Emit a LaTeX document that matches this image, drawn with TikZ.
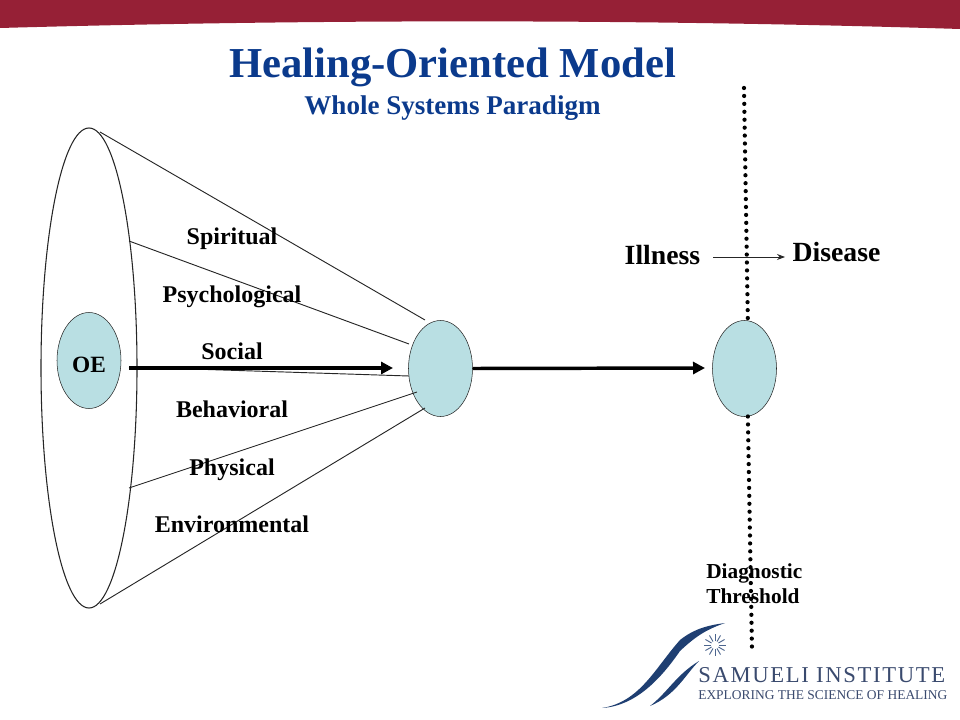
\documentclass[tikz,border=0pt]{standalone}
\usepackage{fontspec}
\setmainfont{Liberation Serif}
\usepackage{xcolor}
\usetikzlibrary{arrows.meta,shapes.geometric}
\definecolor{bandred}{HTML}{962036}
\definecolor{titleblue}{HTML}{0B3A8C}
\definecolor{bubble}{HTML}{B9DFE3}
\definecolor{logoblue}{HTML}{1F3F72}
\definecolor{logotext}{HTML}{3A4A6E}
\begin{document}
\begin{tikzpicture}[x=0.75pt, y=-0.75pt,
  lab/.style={font=\bfseries\fontsize{18}{20}\selectfont, inner sep=0pt},
  big/.style={font=\bfseries\fontsize{20.8}{23}\selectfont, inner sep=0pt},
  blob/.style={draw=black!85, fill=bubble, ellipse, minimum width=48pt, minimum height=72pt, inner sep=0pt},
  thin line/.style={draw=black!85, line width=0.7pt},
  arr/.style={-{Triangle[length=9pt,width=9pt]}, line width=2.6pt},
  dots/.style={line width=3.2pt, line cap=round, dash pattern=on 0pt off 5.95pt}]
\useasboundingbox (0,0) rectangle (960,720);
\fill[bandred] (0,0) -- (960,0) -- (960,29) .. controls (640,19) and (320,19) .. (0,28) -- cycle;
% title
\node[font=\bfseries\fontsize{32}{35}\selectfont, text=titleblue, inner sep=0pt] (title) at (452.5,67) {Healing-Oriented Model};
\node[font=\bfseries\fontsize{20.3}{23}\selectfont, text=titleblue, inner sep=0pt] (subtitle) at (452.5,108) {Whole Systems Paradigm};
% cone
\node[draw=black!85, ellipse, line width=0.8pt, minimum width=72pt, minimum height=360pt, inner sep=0pt] (cone) at (89,368) {};
\node[blob] (oe) at (89,360.5) {};
\node[font=\bfseries\fontsize{17.5}{19}\selectfont, inner sep=0pt] (oetext) at (89,365) {OE};
\node[blob] (mid) at (440.5,368.5) {};
\node[blob] (right) at (744.5,368.5) {};
\coordinate (c1) at (100,132);
\coordinate (c2) at (129,241);
\coordinate (c3) at (129,367);
\coordinate (c4) at (129,488);
\coordinate (c5) at (100,604);
\coordinate (m1) at (425,320);
\coordinate (m2) at (409,344);
\coordinate (m3) at (409,376);
\coordinate (m4) at (417,392);
\coordinate (m5) at (425,408);
\draw[thin line] (c1) -- (m1);
\draw[thin line] (c2) -- (m2);
\draw[thin line] (c3) -- (m3);
\draw[thin line] (c4) -- (m4);
\draw[thin line] (c5) -- (m5);
\coordinate (a1) at (129,368);
\coordinate (a2) at (393,368);
\draw[arr] (a1) -- (a2);
\coordinate (a3) at (705,368);
\draw[arr] (mid.east) -- (a3);
% threshold
\coordinate (top) at (744,88);
\coordinate (bot) at (752,650);
\draw[dots] (top) -- (right.86);
\draw[dots] (right.-86) -- (bot);
% labels
\node[lab] (spi) at (232,239) {Spiritual};
\node[lab] (psy) at (232,297) {Psychological};
\node[lab] (soc) at (232,351) {Social};
\node[lab] (beh) at (232,409) {Behavioral};
\node[lab] (phy) at (232,470) {Physical};
\node[lab] (env) at (232,524) {Environmental};
\node[big] (ill) at (662.5,255) {Illness};
\node[big] (dis) at (836.5,252) {Disease};
\coordinate (ia) at (713,257);
\coordinate (ib) at (785,257);
\draw[-{Stealth[length=6pt]}, thin line] (ia) -- (ib);
\node[font=\bfseries\fontsize{16}{18.7}\selectfont, align=left, inner sep=0pt, anchor=west] (thr) at (706,584) {Diagnostic\\Threshold};
% logo
\fill[logoblue] (602,708) .. controls (640,702) and (655,668) .. (680,640) .. controls (695,628) and (710,625) .. (725,623) .. controls (705,630) and (695,637) .. (680,651) .. controls (660,680) and (635,706) .. (602,708) -- cycle;
\fill[logoblue] (650,706) .. controls (668,692) and (676,675) .. (699,661) .. controls (685,675) and (676,695) .. (650,706) -- cycle;
\foreach \a in {0,30,...,330}
  \draw[logoblue!80, line width=0.7pt] (715,645) ++(\a:4) -- ++(\a:7);
\node[text=logotext, font=\fontsize{17}{19}\selectfont\addfontfeature{LetterSpace=7.3}, inner sep=0pt, anchor=west] (logoa) at (698,675) {SAMUELI INSTITUTE};
\node[text=logotext, font=\fontsize{10.1}{12}\selectfont, inner sep=0pt, anchor=west] (logob) at (698,695) {EXPLORING THE SCIENCE OF HEALING};
\end{tikzpicture}
\end{document}
